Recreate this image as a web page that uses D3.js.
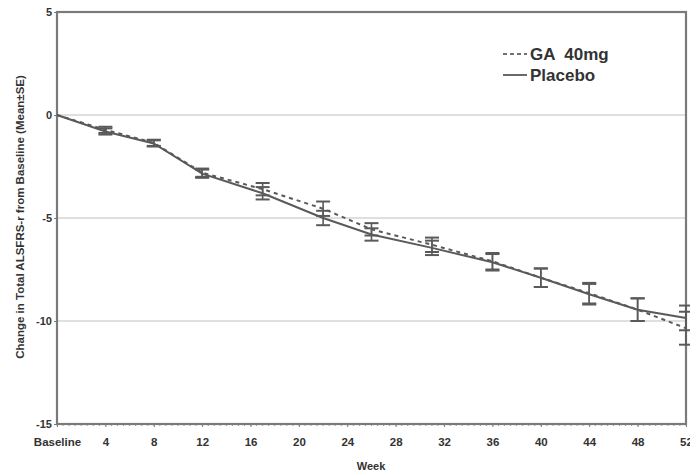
<!DOCTYPE html>
<html>
<head>
<meta charset="utf-8">
<script src="https://cdn.jsdelivr.net/npm/d3@7/dist/d3.min.js"></script>
<style>
  html, body { margin: 0; padding: 0; background: #fff; }
  svg { display: block; font-family: Arial, "Liberation Sans", sans-serif; }
</style>
</head>
<body>
<svg id="chart" width="690" height="472"></svg>
<script>
// Visit weeks and mean change from baseline (± SE) for each arm
const weeks = [0, 4, 8, 12, 17, 22, 26, 31, 36, 40, 44, 48, 52];
const gaMean = [0, -0.72, -1.35, -2.8, -3.6, -4.55, -5.55, -6.3, -7.1, -7.9, -8.65, -9.45, -10.35];
const gaSE = [0, 0.15, 0.15, 0.2, 0.3, 0.35, 0.3, 0.35, 0.4, 0.45, 0.5, 0.55, 0.8];
const placeboMean = [0, -0.8, -1.38, -2.85, -3.8, -5.0, -5.8, -6.45, -7.15, -7.9, -8.7, -9.45, -9.85];
const placeboSE = [0, 0.15, 0.15, 0.2, 0.3, 0.35, 0.3, 0.35, 0.4, 0.45, 0.5, 0.55, 0.6];

const xTicks = [0, 4, 8, 12, 16, 20, 24, 28, 32, 36, 40, 44, 48, 52];
const xTickLabels = ["Baseline", "4", "8", "12", "16", "20", "24", "28", "32", "36", "40", "44", "48", "52"];
const yTicks = [5, 0, -5, -10, -15];
const gridLevels = [0, -5, -10];

const series = [
  { name: "GA  40mg", mean: gaMean, se: gaSE, dash: "4,4" },
  { name: "Placebo", mean: placeboMean, se: placeboSE, dash: null }
];

const svg = d3.select("#chart");
const plotLeft = 57, plotRight = 686, plotTop = 12, plotBottom = 424;

const x = d3.scaleLinear().domain([0, 52]).range([plotLeft, plotRight]);
const y = d3.scaleLinear().domain([-15, 5]).range([plotBottom, plotTop]);

const lineColor = "#5a5a5a";
const axisColor = "#7a7a7a";

// Horizontal reference lines
svg.append("g").selectAll("line").data(gridLevels).join("line")
  .attr("x1", plotLeft).attr("x2", plotRight)
  .attr("y1", d => y(d)).attr("y2", d => y(d))
  .attr("stroke", "#d4d4d4").attr("stroke-width", 1.5);

// Bottom axis with week labels
const xAxis = d3.axisBottom(x)
  .tickValues(xTicks)
  .tickFormat((d, i) => xTickLabels[i])
  .tickSize(3).tickPadding(11);
const gx = svg.append("g").attr("transform", `translate(0,${plotBottom})`).call(xAxis);
gx.select(".domain").remove();
gx.selectAll(".tick line").attr("stroke", axisColor).attr("stroke-width", 1);
gx.selectAll(".tick text").attr("fill", "#333").attr("font-size", 11.5).attr("font-weight", "bold");

// Minor ticks along the bottom axis
const minor = d3.range(0, 52.01, 0.5);
svg.append("g").selectAll("line").data(minor).join("line")
  .attr("x1", d => x(d)).attr("x2", d => x(d))
  .attr("y1", plotBottom).attr("y2", plotBottom + 2)
  .attr("stroke", "#9a9a9a").attr("stroke-width", 1);

// Left axis
const yAxis = d3.axisLeft(y).tickValues(yTicks).tickFormat(d3.format("d")).tickSize(3).tickPadding(2);
const gy = svg.append("g").attr("transform", `translate(${plotLeft},0)`).call(yAxis);
gy.select(".domain").remove();
gy.selectAll(".tick line").attr("stroke", axisColor);
gy.selectAll(".tick text").attr("fill", "#333").attr("font-size", 11).attr("font-weight", "bold")
  .text(d => d < 0 ? "-" + Math.abs(d) : d);

// Plot frame
svg.append("rect")
  .attr("x", plotLeft).attr("y", plotTop)
  .attr("width", plotRight - plotLeft).attr("height", plotBottom - plotTop)
  .attr("fill", "none").attr("stroke", axisColor).attr("stroke-width", 2.2);

// Series lines and error bars
const line = d3.line().x(d => x(d.w)).y(d => y(d.m));
series.forEach(s => {
  const pts = weeks.map((w, i) => ({ w, m: s.mean[i], se: s.se[i] }));
  svg.append("path").datum(pts)
    .attr("d", line)
    .attr("fill", "none")
    .attr("stroke", lineColor)
    .attr("stroke-width", 2)
    .attr("stroke-dasharray", s.dash);

  const eb = svg.append("g").selectAll("g").data(pts.filter(p => p.se > 0)).join("g");
  eb.append("line")
    .attr("x1", d => x(d.w)).attr("x2", d => x(d.w))
    .attr("y1", d => y(d.m + d.se)).attr("y2", d => y(d.m - d.se))
    .attr("stroke", lineColor).attr("stroke-width", 1.6);
  eb.selectAll(".cap").data(d => [[d.w, d.m + d.se], [d.w, d.m - d.se]]).join("line")
    .attr("x1", d => x(d[0]) - 7).attr("x2", d => x(d[0]) + 7)
    .attr("y1", d => y(d[1])).attr("y2", d => y(d[1]))
    .attr("stroke", lineColor).attr("stroke-width", 2);
});

// Legend
const legend = svg.append("g").attr("transform", "translate(503,0)");
series.forEach((s, i) => {
  const ly = 54 + i * 21;
  legend.append("line")
    .attr("x1", 0).attr("x2", 24).attr("y1", ly).attr("y2", ly)
    .attr("stroke", "#444").attr("stroke-width", 1.6)
    .attr("stroke-dasharray", s.dash ? "4,3" : null);
  legend.append("text")
    .attr("x", 27).attr("y", ly + 6)
    .attr("font-size", 17).attr("font-weight", "bold").attr("fill", "#333")
    .attr("xml:space", "preserve")
    .text(s.name);
});

// Axis titles
svg.append("text")
  .attr("transform", "translate(24,217) rotate(-90)")
  .attr("text-anchor", "middle")
  .attr("font-size", 11.5).attr("font-weight", "bold").attr("fill", "#333")
  .text("Change in Total ALSFRS-r from Baseline (Mean\u00B1SE)");

svg.append("text")
  .attr("x", 371).attr("y", 470)
  .attr("text-anchor", "middle")
  .attr("font-size", 11).attr("font-weight", "bold").attr("fill", "#333")
  .text("Week");
</script>
</body>
</html>
